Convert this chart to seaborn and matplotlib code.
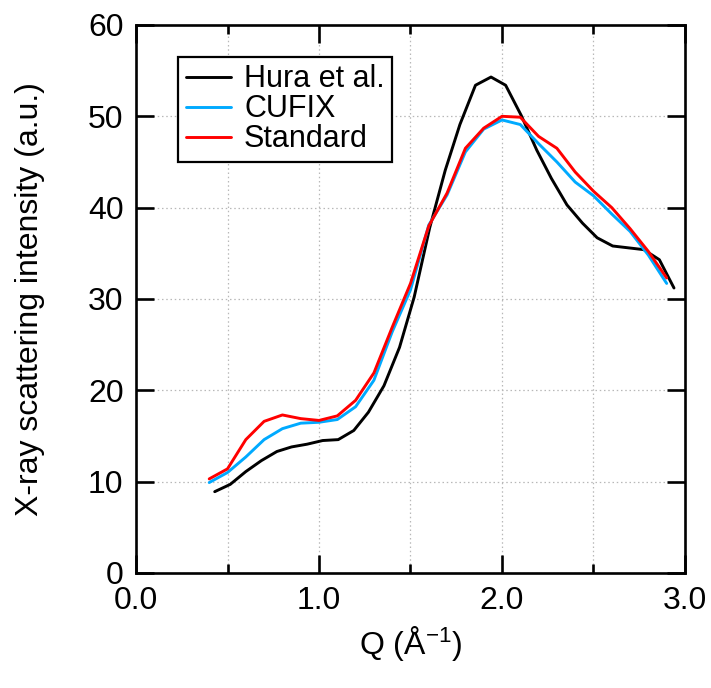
import numpy as np
import pandas as pd
import matplotlib
matplotlib.use("Agg")
import matplotlib.pyplot as plt
from matplotlib.ticker import MultipleLocator, FormatStrFormatter
import seaborn as sns

# ---- data ----
q_hura = [0.43, 0.515, 0.60, 0.685, 0.77, 0.85, 0.935, 1.02, 1.105, 1.19, 1.27,
          1.355, 1.44, 1.52, 1.605, 1.69, 1.77, 1.855, 1.94, 2.02, 2.105, 2.19,
          2.27, 2.355, 2.44, 2.52, 2.605, 2.69, 2.775, 2.86, 2.94]
i_hura = [8.9, 9.7, 11.1, 12.3, 13.3, 13.8, 14.1, 14.5, 14.6, 15.6, 17.6,
          20.5, 24.7, 30.2, 37.8, 44.1, 49.1, 53.4, 54.3, 53.4, 50.1, 46.3,
          43.2, 40.3, 38.3, 36.7, 35.8, 35.6, 35.4, 34.3, 31.2]

q_sim = [0.4, 0.5, 0.6, 0.7, 0.8, 0.9, 1.0, 1.1, 1.2, 1.3, 1.4, 1.5, 1.6,
         1.7, 1.8, 1.9, 2.0, 2.1, 2.2, 2.3, 2.4, 2.5, 2.6, 2.7, 2.8, 2.9]
i_cufix = [9.9, 11.0, 12.7, 14.6, 15.8, 16.4, 16.5, 16.8, 18.2, 21.1, 26.4,
           31.0, 38.1, 41.4, 46.1, 48.6, 49.6, 49.1, 47.0, 45.0, 42.8, 41.3,
           39.3, 37.4, 34.8, 31.7]
i_standard = [10.3, 11.4, 14.6, 16.6, 17.3, 16.9, 16.7, 17.2, 18.9, 21.9, 26.9,
              31.7, 38.0, 41.6, 46.5, 48.7, 50.0, 49.9, 47.8, 46.5, 43.9, 41.8,
              40.0, 37.7, 35.2, 32.3]

series_names = ["Hura et al.", "CUFIX", "Standard"]
series_colors = ["#000000", "#00AAFF", "#FF0000"]

df = pd.concat([
    pd.DataFrame({"Q": q_hura, "I": i_hura, "series": series_names[0]}),
    pd.DataFrame({"Q": q_sim, "I": i_cufix, "series": series_names[1]}),
    pd.DataFrame({"Q": q_sim, "I": i_standard, "series": series_names[2]}),
], ignore_index=True)

sns.set_style("ticks")
plt.rcParams["font.family"] = ["Liberation Sans", "DejaVu Sans"]
plt.rcParams["mathtext.fontset"] = "custom"
plt.rcParams["mathtext.rm"] = "Liberation Sans"
plt.rcParams["mathtext.it"] = "Liberation Sans"
plt.rcParams["text.color"] = "black"
plt.rcParams["axes.labelcolor"] = "black"
plt.rcParams["xtick.color"] = "black"
plt.rcParams["ytick.color"] = "black"

fig = plt.figure(figsize=(7.11, 6.88), dpi=100)
ax = fig.add_axes([0.1913, 0.1672, 0.7721, 0.7965])

sns.lineplot(data=df, x="Q", y="I", hue="series", hue_order=series_names,
             palette=dict(zip(series_names, series_colors)), sort=False,
             estimator=None, linewidth=2.1, ax=ax)

ax.set_xlim(0, 3.0)
ax.set_ylim(0, 60)
ax.xaxis.set_major_locator(MultipleLocator(1.0))
ax.xaxis.set_minor_locator(MultipleLocator(0.5))
ax.xaxis.set_major_formatter(FormatStrFormatter("%.1f"))
ax.yaxis.set_major_locator(MultipleLocator(10))

ax.grid(True, which="both", axis="x", color="#b8b8b8", linestyle=(0, (1.2, 2.2)), linewidth=0.9)
ax.grid(True, which="major", axis="y", color="#b8b8b8", linestyle=(0, (1.2, 2.2)), linewidth=0.9)
ax.set_axisbelow(True)

for s in ax.spines.values():
    s.set_linewidth(1.9)
    s.set_color("black")
ax.tick_params(which="major", direction="in", length=13, width=1.9,
               top=True, right=True, labelsize=23, pad=9.5, colors="black")
ax.tick_params(which="minor", direction="in", length=6.5, width=1.9,
               top=True, right=True)
ax.tick_params(axis="y", which="minor", left=False, right=False)
ax.tick_params(axis="y", which="major", pad=9)

ax.set_xlabel("Q (Å$^{\\mathregular{-1}}$)", fontsize=23, labelpad=6)
ax.set_ylabel("X-ray scattering intensity (a.u.)", fontsize=23, labelpad=31)

leg = ax.legend(loc="upper left", bbox_to_anchor=(0.0765, 0.942), fontsize=22,
                frameon=True, fancybox=False, edgecolor="black",
                handlelength=1.48, handletextpad=0.43, borderpad=0.25,
                labelspacing=0.0, borderaxespad=0)
leg.get_frame().set_linewidth(1.6)
leg.get_frame().set_alpha(1)
for h in leg.get_lines():
    h.set_linewidth(2.1)

fig.savefig("out.png", dpi=100)
